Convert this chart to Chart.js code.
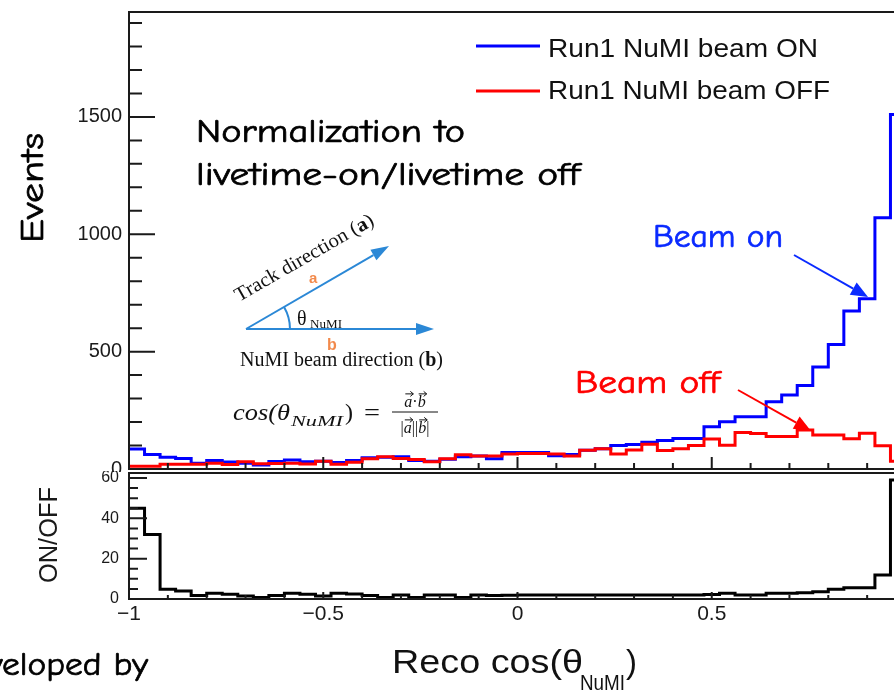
<!DOCTYPE html>
<html>
<head>
<meta charset="utf-8">
<title>Reco cos(theta NuMI)</title>
<script src="https://cdn.jsdelivr.net/npm/chart.js@4.4.1/dist/chart.umd.min.js"></script>
<style>
  html, body { margin: 0; padding: 0; background: #fff; overflow: hidden; }
  #page { position: relative; width: 894px; height: 690px; overflow: hidden; }
  #page canvas { position: absolute; left: 0; }
  #eventsCanvas { top: 0; }
  #ratioCanvas { top: 471px; }
</style>
</head>
<body>
<div id="page">
  <canvas id="eventsCanvas" width="930" height="472"></canvas>
  <canvas id="ratioCanvas" width="930" height="219"></canvas>
</div>
<script>
// histogram: 50 bins of 0.04 from -1 to 1
const binEdges = Array.from({ length: 51 }, (_, i) => Math.round((-1 + i * 0.04) * 100) / 100);

// events per bin
const beamOn = [85, 62, 50, 45, 25, 36, 30, 24, 17, 32,
                38, 31, 33, 28, 36, 48, 50, 52, 36, 33,
                42, 52, 55, 44, 70, 70, 70, 56, 62, 80,
                86, 100, 104, 114, 121, 130, 130, 180, 201, 223,
                223, 287, 315, 356, 435, 530, 673, 725, 1070, 1510];
const beamOff = [12, 12, 20, 20, 20, 24, 19, 31, 22, 23,
                 24, 21, 33, 20, 29, 44, 52, 45, 40, 31,
                 44, 61, 55, 55, 64, 66, 66, 64, 55, 80,
                 86, 64, 81, 105, 79, 86, 100, 128, 101, 156,
                 151, 138, 138, 166, 145, 145, 129, 152, 99, 33];
// ON/OFF ratio per bin
const onOffRatio = [45, 32, 4.8, 4.0, 1.7, 2.8, 2.3, 1.5, 0.7, 1.7,
                    2.8, 2.3, 1.5, 2.8, 2.5, 1.7, 0.8, 2.0, 0.8, 2.0,
                    2.0, 0.8, 2.0, 1.7, 1.8, 2.0, 2.0, 2.0, 2.0, 2.0,
                    2.0, 2.0, 2.0, 2.0, 2.0, 2.0, 2.0, 2.2, 2.8, 2.0,
                    2.0, 2.8, 2.8, 3.1, 3.6, 4.8, 5.6, 5.6, 11.9, 59];

const seriesNames = ['Run1 NuMI beam ON', 'Run1 NuMI beam OFF'];
const eventsTicks = [0, 500, 1000, 1500];
const ratioTicks = [0, 20, 40, 60];
const cosTicks = [-1, -0.5, 0, 0.5, 1];
const cosMinorStep = 0.1;
const eventsMax = 1947;
const ratioMax = 62.5;

Chart.defaults.font.family = "'Liberation Sans', Arial, sans-serif";
Chart.defaults.color = '#1a1a1a';

const COMIC = "'Comic Sans MS', 'Comic Neue', 'DejaVu Sans', sans-serif";
const SERIF = "'Liberation Serif', 'Times New Roman', serif";
const SANS = "'Liberation Sans', Arial, sans-serif";
const RATIO_TOP = 471; // page y where the ratio canvas starts

function histPoints(values) {
  const pts = values.map((v, i) => ({ x: binEdges[i], y: v }));
  pts.push({ x: binEdges[values.length], y: values[values.length - 1] });
  return pts;
}

function yAxisFit(width) {
  return s => { s.width = width; s.paddingTop = 0; s.paddingBottom = 0; };
}
function xAxisFit(height) {
  return s => { s.height = height; s.paddingLeft = 0; s.paddingRight = 0; };
}

// text run, optionally stretched to a given width and rotated
function drawRun(ctx, parts, x, y, width, angle, color, bold) {
  ctx.save();
  ctx.translate(x, y);
  if (angle) ctx.rotate(angle);
  let total = 0;
  parts.forEach(p => { ctx.font = p.font; p.w = ctx.measureText(p.t).width; total += p.w; });
  ctx.scale(width ? width / total : 1, 1);
  ctx.textBaseline = 'alphabetic';
  ctx.textAlign = 'left';
  ctx.lineJoin = 'round';
  let cx = 0;
  parts.forEach(p => {
    ctx.font = p.font;
    ctx.fillStyle = p.color || color || '#111';
    ctx.fillText(p.t, cx, p.dy || 0);
    if (bold) {
      ctx.strokeStyle = ctx.fillStyle;
      ctx.lineWidth = bold;
      ctx.strokeText(p.t, cx, p.dy || 0);
    }
    cx += p.w;
  });
  ctx.restore();
}

function arrow(ctx, x1, y1, x2, y2, color, lw, hl, hw) {
  const ang = Math.atan2(y2 - y1, x2 - x1);
  const bx = x2 - hl * Math.cos(ang), by = y2 - hl * Math.sin(ang);
  ctx.save();
  ctx.strokeStyle = color;
  ctx.fillStyle = color;
  ctx.lineWidth = lw;
  ctx.beginPath(); ctx.moveTo(x1, y1); ctx.lineTo(bx, by); ctx.stroke();
  ctx.beginPath();
  ctx.moveTo(x2, y2);
  ctx.lineTo(bx + hw / 2 * Math.sin(ang), by - hw / 2 * Math.cos(ang));
  ctx.lineTo(bx - hw / 2 * Math.sin(ang), by + hw / 2 * Math.cos(ang));
  ctx.closePath(); ctx.fill();
  ctx.restore();
}

// a row of math tokens centred on cx, vectors get a small arrow on top
function mathRow(ctx, tokens, cx, y, size) {
  let total = 0;
  tokens.forEach(t => {
    t.font = (t.i ? 'italic ' : '') + size + 'px ' + SERIF;
    ctx.font = t.font;
    t.w = ctx.measureText(t.t).width;
    total += t.w;
  });
  let x = cx - total / 2;
  ctx.save();
  ctx.fillStyle = '#111';
  ctx.strokeStyle = '#111';
  ctx.lineWidth = 1;
  tokens.forEach(t => {
    ctx.font = t.font;
    ctx.fillText(t.t, x, y);
    if (t.v) {
      const ay = y - size * 0.82, ax0 = x + 1, ax1 = x + t.w + 1;
      ctx.beginPath(); ctx.moveTo(ax0, ay); ctx.lineTo(ax1, ay);
      ctx.moveTo(ax1 - 3, ay - 2.5); ctx.lineTo(ax1, ay); ctx.lineTo(ax1 - 3, ay + 2.5);
      ctx.stroke();
    }
    x += t.w;
  });
  ctx.restore();
}

// ROOT style frame with inward ticks
const rootFrame = {
  id: 'rootFrame',
  afterDatasetsDraw(chart, args, o) {
    const { ctx, chartArea: a } = chart;
    const x = chart.scales.x, y = chart.scales.y;
    ctx.save();
    ctx.strokeStyle = '#1a1a1a';
    ctx.lineWidth = 2;
    ctx.strokeRect(a.left, a.top, a.right - a.left, a.bottom - a.top);
    ctx.beginPath();
    for (let k = 0; k * o.yStep <= y.max + 1e-9; k++) {
      const v = k * o.yStep;
      const major = Math.abs(v / o.yMajorStep - Math.round(v / o.yMajorStep)) < 1e-6;
      const py = y.getPixelForValue(v);
      ctx.moveTo(a.left, py);
      ctx.lineTo(a.left + (major ? o.yMajorLen : o.yMinorLen), py);
    }
    const nMinor = Math.round((x.max - x.min) / cosMinorStep);
    for (let i = 0; i <= nMinor; i++) {
      const v = x.min + i * cosMinorStep;
      const major = cosTicks.some(t => Math.abs(t - v) < 1e-6);
      const px = x.getPixelForValue(v);
      ctx.moveTo(px, a.bottom);
      ctx.lineTo(px, a.bottom - (major ? o.xMajorLen : o.xMinorLen));
    }
    ctx.stroke();
    ctx.restore();
  }
};

const eventsNotes = {
  id: 'eventsNotes',
  afterDraw(chart) {
    const ctx = chart.ctx;
    const ds = chart.data.datasets;

    // legend
    [[46, 57, 270], [91, 99, 282]].forEach(([ly, by, w], i) => {
      ctx.save();
      ctx.strokeStyle = ds[i].borderColor;
      ctx.lineWidth = 3;
      ctx.beginPath(); ctx.moveTo(476, ly); ctx.lineTo(540, ly); ctx.stroke();
      ctx.restore();
      drawRun(ctx, [{ t: ds[i].label, font: '26px ' + SANS }], 548, by, w, 0, '#111');
    });

    // slide annotations
    drawRun(ctx, [{ t: 'Normalization to', font: '32px ' + COMIC }], 196, 142, 269, 0, '#000', 0.7);
    drawRun(ctx, [{ t: 'livetime-on/livetime off', font: '32px ' + COMIC }], 196, 185, 384, 0, '#000', 0.7);
    drawRun(ctx, [{ t: 'Events', font: '32px ' + COMIC }], 43, 243, 110, -Math.PI / 2, '#000', 0.7);
    drawRun(ctx, [{ t: 'Beam on', font: '32px ' + COMIC }], 653, 247, 130, 0, '#0a2aff', 0.7);
    drawRun(ctx, [{ t: 'Beam off', font: '32px ' + COMIC }], 575, 393, 145, 0, '#ff0000', 0.7);
    arrow(ctx, 794, 255, 868, 297, '#0a2aff', 2, 17, 14);
    arrow(ctx, 738, 390, 811, 431, '#ff0000', 2, 17, 14);

    // angle sketch
    const blue = '#2b88d6', orange = '#f28a4c';
    const ox = 246, oy = 329;
    arrow(ctx, ox, oy, 389, 246, blue, 2, 18, 12);
    arrow(ctx, ox, oy, 434, 329, blue, 2, 18, 12);
    ctx.save();
    ctx.strokeStyle = blue;
    ctx.lineWidth = 2;
    ctx.beginPath(); ctx.arc(ox, oy, 44, Math.atan2(246 - oy, 389 - ox), 0); ctx.stroke();
    ctx.restore();
    drawRun(ctx, [{ t: 'θ', font: '20px ' + SERIF }], 297, 325, 0);
    drawRun(ctx, [{ t: 'NuMI', font: '12px ' + SERIF }], 310, 328, 32);
    drawRun(ctx, [{ t: 'a', font: 'bold 15px ' + SANS }], 309, 283, 0, 0, orange);
    drawRun(ctx, [{ t: 'b', font: 'bold 16px ' + SANS }], 327, 350, 0, 0, orange);
    drawRun(ctx, [{ t: 'Track direction (', font: '20px ' + SERIF }, { t: 'a', font: 'bold 20px ' + SERIF },
                  { t: ')', font: '20px ' + SERIF }], 239, 302, 157, -0.52);
    drawRun(ctx, [{ t: 'NuMI beam direction (', font: '20px ' + SERIF }, { t: 'b', font: 'bold 20px ' + SERIF },
                  { t: ')', font: '20px ' + SERIF }], 240, 366, 203);

    // cos formula
    drawRun(ctx, [{ t: 'cos(θ', font: 'italic 24px ' + SERIF }], 233, 420, 57);
    drawRun(ctx, [{ t: 'NuMI', font: 'italic 15px ' + SERIF }], 291, 426, 52);
    drawRun(ctx, [{ t: ')', font: '24px ' + SERIF }], 345, 420, 0);
    drawRun(ctx, [{ t: '=', font: '24px ' + SERIF }], 364, 420, 16);
    mathRow(ctx, [{ t: 'a', i: true, v: true }, { t: '·' }, { t: 'b', i: true, v: true }], 415, 407, 16);
    ctx.save();
    ctx.strokeStyle = '#111'; ctx.lineWidth = 1;
    ctx.beginPath(); ctx.moveTo(392, 412); ctx.lineTo(438, 412); ctx.stroke();
    ctx.restore();
    mathRow(ctx, [{ t: '|' }, { t: 'a', i: true, v: true }, { t: '||' }, { t: 'b', i: true, v: true }, { t: '|' }], 415, 433, 16);
  }
};

const ratioNotes = {
  id: 'ratioNotes',
  afterDraw(chart) {
    const ctx = chart.ctx;
    const oy = RATIO_TOP;
    drawRun(ctx, [{ t: 'ON/OFF', font: '25px ' + SANS }], 57, 583 - oy, 96, -Math.PI / 2, '#1a1a1a');
    drawRun(ctx, [{ t: 'Reco cos(θ', font: '33px ' + SANS }], 392, 673 - oy, 191, 0, '#111');
    drawRun(ctx, [{ t: 'NuMI', font: '22px ' + SANS }], 580, 690 - oy, 45, 0, '#111');
    drawRun(ctx, [{ t: ')', font: '33px ' + SANS }], 626, 673 - oy, 0, 0, '#111');

    // "Developed by", cut by the left edge of the slide
    const font = '32px ' + COMIC;
    ctx.font = font;
    const sx = 146 / ctx.measureText('eloped by').width;
    const wAll = ctx.measureText('Developed by').width * sx;
    drawRun(ctx, [{ t: 'Developed by', font }], 148 - wAll, 675 - oy, wAll, 0, '#000', 0.7);
  }
};

const eventsChart = new Chart(document.getElementById('eventsCanvas'), {
  type: 'line',
  data: {
    datasets: [
      { label: seriesNames[0], data: histPoints(beamOn), borderColor: '#0000ff', borderWidth: 3,
        stepped: 'before', pointRadius: 0, fill: false, order: 1 },
      { label: seriesNames[1], data: histPoints(beamOff), borderColor: '#ff0000', borderWidth: 3,
        stepped: 'before', pointRadius: 0, fill: false, order: 0 }
    ]
  },
  options: {
    responsive: false,
    animation: false,
    layout: { padding: { left: 0, top: 12, right: 24, bottom: 0 }, autoPadding: false },
    scales: {
      x: {
        type: 'linear', min: -1, max: 1,
        grid: { display: false, drawTicks: false },
        border: { display: false },
        ticks: { display: false },
        afterFit: xAxisFit(3)
      },
      y: {
        min: 0, max: eventsMax,
        grid: { display: false, drawTicks: false },
        border: { display: false },
        afterBuildTicks: s => { s.ticks = eventsTicks.map(v => ({ value: v })); },
        ticks: { padding: 7, autoSkip: false, font: { size: 20 }, color: '#1a1a1a', callback: v => String(v) },
        afterFit: yAxisFit(129)
      }
    },
    plugins: {
      legend: { display: false },
      tooltip: { enabled: false },
      rootFrame: { yStep: 100, yMajorStep: 500, yMajorLen: 26, yMinorLen: 13, xMajorLen: 12, xMinorLen: 6 }
    }
  },
  plugins: [rootFrame, eventsNotes]
});

const ratioChart = new Chart(document.getElementById('ratioCanvas'), {
  type: 'line',
  data: {
    datasets: [
      { label: 'ON/OFF', data: histPoints(onOffRatio), borderColor: '#000000', borderWidth: 3,
        stepped: 'before', pointRadius: 0, fill: false }
    ]
  },
  options: {
    responsive: false,
    animation: false,
    layout: { padding: { left: 0, top: 2, right: 24, bottom: 0 }, autoPadding: false },
    scales: {
      x: {
        type: 'linear', min: -1, max: 1,
        grid: { display: false, drawTicks: false },
        border: { display: false },
        afterBuildTicks: s => { s.ticks = cosTicks.map(v => ({ value: v })); },
        ticks: {
          padding: 3, autoSkip: false, maxRotation: 0, font: { size: 21 }, color: '#1a1a1a',
          callback: v => (v < 0 ? '\u2212' + Math.abs(v) : String(v))
        },
        afterFit: xAxisFit(91)
      },
      y: {
        min: 0, max: ratioMax,
        grid: { display: false, drawTicks: false },
        border: { display: false },
        afterBuildTicks: s => { s.ticks = ratioTicks.map(v => ({ value: v })); },
        ticks: { padding: 10, autoSkip: false, font: { size: 16 }, color: '#1a1a1a', callback: v => String(v) },
        afterFit: yAxisFit(129)
      }
    },
    plugins: {
      legend: { display: false },
      tooltip: { enabled: false },
      rootFrame: { yStep: 5, yMajorStep: 20, yMajorLen: 18, yMinorLen: 9, xMajorLen: 7, xMinorLen: 4 }
    }
  },
  plugins: [rootFrame, ratioNotes]
});
</script>
</body>
</html>
